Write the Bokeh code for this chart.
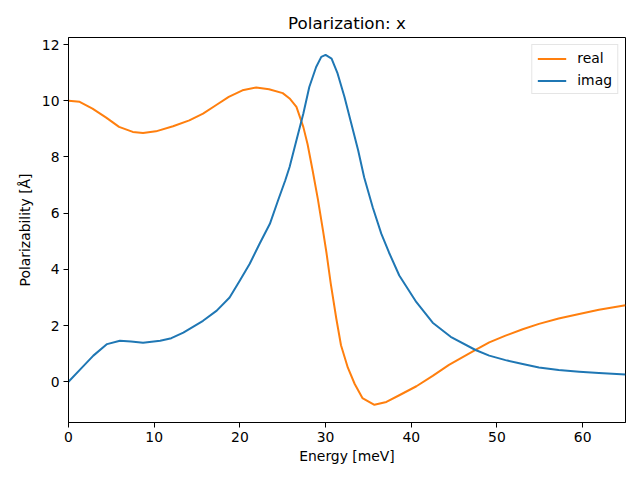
from bokeh.plotting import figure
from bokeh.models import Range1d, FixedTicker, Legend, LegendItem
from bokeh.embed import file_html
from bokeh.resources import INLINE

# Data
energy_real = [0, 1.3, 2.8, 4.4, 5.9, 7.5, 8.7, 10.2, 12.2, 14.1, 15.7, 17.2, 18.7, 20.3,
               21.9, 23.4, 25.0, 25.8, 26.6, 27.4, 27.9, 28.5, 29.1, 29.7, 30.1, 30.6,
               31.25, 31.8, 32.6, 33.4, 34.3, 35.7, 37.1, 38.6, 40.6, 42.5, 44.4, 47.5,
               49.1, 51.0, 53.0, 54.9, 57.2, 59.6, 61.9, 65.0]
real = [10.0, 9.96, 9.72, 9.40, 9.07, 8.89, 8.85, 8.91, 9.09, 9.30, 9.54, 9.84, 10.14, 10.37,
        10.47, 10.41, 10.27, 10.08, 9.78, 9.07, 8.45, 7.5, 6.5, 5.38, 4.6, 3.5,
        2.25, 1.3, 0.5, -0.08, -0.58, -0.82, -0.72, -0.48, -0.16, 0.21, 0.6, 1.13,
        1.4, 1.64, 1.87, 2.06, 2.25, 2.41, 2.56, 2.72]

energy_imag = [0, 1.4, 2.9, 4.5, 6.0, 7.3, 8.7, 10.7, 12.0, 13.4, 15.7, 17.3, 18.8, 20.0,
               21.15, 22.3, 23.5, 24.45, 25.3, 25.8, 26.6, 27.4, 28.1, 28.9, 29.5, 30.0,
               30.7, 31.4, 32.2, 33.0, 33.8, 34.5, 35.5, 36.5, 37.4, 38.6, 40.6, 42.5,
               44.6, 47.5, 49.1, 51.0, 53.0, 54.9, 57.2, 59.6, 61.9, 65.0]
imag = [0, 0.45, 0.93, 1.34, 1.46, 1.43, 1.39, 1.46, 1.55, 1.75, 2.17, 2.53, 3.0, 3.6,
        4.2, 4.91, 5.62, 6.45, 7.17, 7.64, 8.59, 9.54, 10.49, 11.2, 11.56, 11.63,
        11.5, 10.97, 10.14, 9.19, 8.24, 7.28, 6.21, 5.27, 4.6, 3.78, 2.83, 2.1,
        1.6, 1.13, 0.93, 0.77, 0.63, 0.51, 0.42, 0.36, 0.31, 0.26]

x_ticks = [0, 10, 20, 30, 40, 50, 60]
y_ticks = [0, 2, 4, 6, 8, 10, 12]

FONT = "DejaVu Sans"

p = figure(width=640, height=480, output_backend="svg", toolbar_location=None,
           x_range=Range1d(0, 65), y_range=Range1d(-1.45, 12.25),
           min_border_left=68, min_border_right=15, min_border_top=37, min_border_bottom=58)

p.title.text = "Polarization: x"
p.title.align = "center"
p.title.text_font = FONT
p.title.text_font_size = "16.7px"
p.title.text_font_style = "normal"
p.title.text_color = "black"
p.title.standoff = 9

p.xgrid.visible = False
p.ygrid.visible = False
p.outline_line_color = "black"
p.outline_line_width = 1
p.background_fill_color = "white"
p.border_fill_color = "white"

p.xaxis.ticker = FixedTicker(ticks=x_ticks)
p.yaxis.ticker = FixedTicker(ticks=y_ticks)
p.xaxis.axis_label = "Energy [meV]"
p.yaxis.axis_label = "Polarizability [Å]"
for ax in (p.xaxis, p.yaxis):
    ax.axis_label_text_font = FONT
    ax.axis_label_text_font_size = "13.9px"
    ax.axis_label_text_font_style = "normal"
    ax.axis_label_text_color = "black"
    ax.major_label_text_font = FONT
    ax.major_label_text_font_size = "13.9px"
    ax.major_label_text_color = "black"
    ax.major_tick_out = 5
    ax.major_tick_in = 0
    ax.minor_tick_out = 0
    ax.minor_tick_in = 0
    ax.axis_line_color = "black"
    ax.major_tick_line_color = "black"
    ax.major_label_standoff = 4
p.xaxis.axis_label_standoff = 3
p.yaxis.axis_label_standoff = 6

r_real = p.line(energy_real, real, line_color="#ff7f0e", line_width=2, line_join="round")
r_imag = p.line(energy_imag, imag, line_color="#1f77b4", line_width=2, line_join="round")

legend = Legend(items=[LegendItem(label="real", renderers=[r_real]),
                       LegendItem(label="imag", renderers=[r_imag])],
                location="top_right", margin=7, padding=5, spacing=6,
                label_height=15, glyph_height=15, glyph_width=29, label_standoff=11,
                label_text_font=FONT, label_text_font_size="13.9px", label_text_color="black",
                border_line_color="#cccccc", border_line_width=1,
                background_fill_color="white", background_fill_alpha=0.8)
p.add_layout(legend, "center")

open("out.html", "w").write(file_html(p, INLINE))
